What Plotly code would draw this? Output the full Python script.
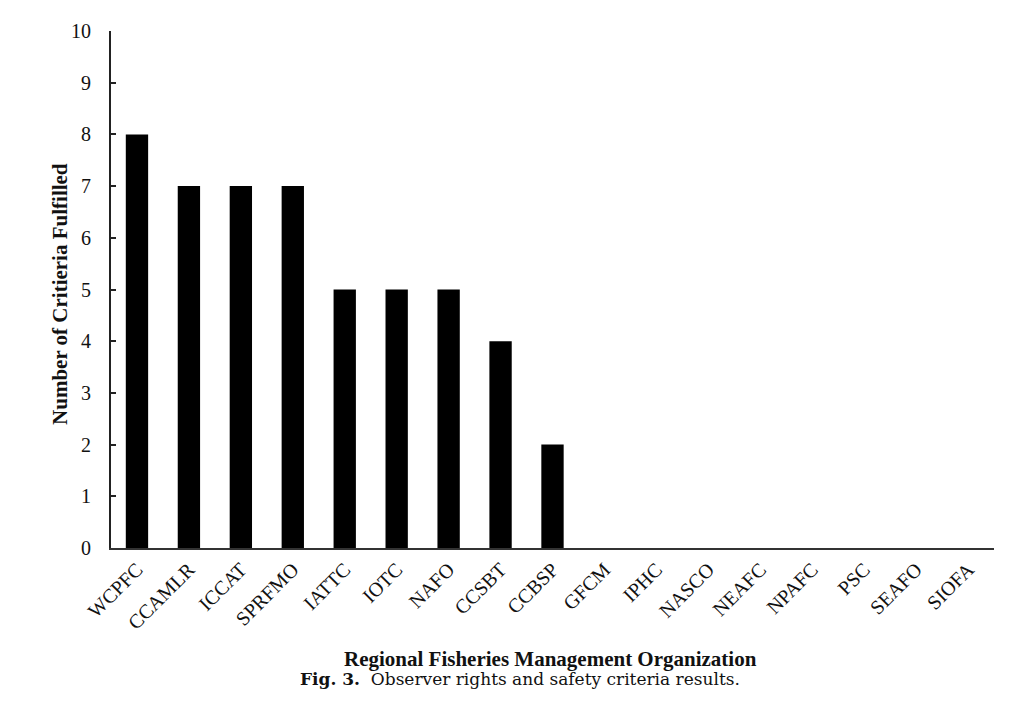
import plotly.graph_objects as go

categories = ["WCPFC", "CCAMLR", "ICCAT", "SPRFMO", "IATTC", "IOTC", "NAFO", "CCSBT",
              "CCBSP", "GFCM", "IPHC", "NASCO", "NEAFC", "NPAFC", "PSC", "SEAFO", "SIOFA"]
values = [8, 7, 7, 7, 5, 5, 5, 4, 2, 0, 0, 0, 0, 0, 0, 0, 0]
y_ticks = list(range(0, 11))

serif = "Liberation Serif, Times New Roman, serif"

fig = go.Figure(go.Bar(
    x=categories, y=values,
    marker=dict(color="black", line=dict(width=0)),
))

# page body adds ~8px offset; margins compensate
fig.update_layout(
    width=1024, height=726,
    margin=dict(l=103, r=38, t=21, b=186),
    paper_bgcolor="white", plot_bgcolor="white",
    bargap=0.57,
    showlegend=False,
    font=dict(family=serif, color="#111", size=20),
    xaxis=dict(
        range=[-0.5, len(categories) - 0.5],
        showline=True, linecolor="#333", linewidth=2,
        ticks="", tickangle=-45,
        tickfont=dict(family=serif, size=20, color="#111"),
        showgrid=False, zeroline=False,
    ),
    yaxis=dict(
        range=[0, 10], tickvals=y_ticks,
        showline=True, linecolor="#222", linewidth=2,
        ticks="inside", ticklen=5, tickwidth=2, tickcolor="#222",
        ticklabelstandoff=14,
        tickfont=dict(family=serif, size=20, color="#111"),
        showgrid=False, zeroline=False,
    ),
    annotations=[
        dict(text="<b>Number of Critieria Fulfilled</b>", xref="paper", yref="paper",
             x=-0.058, y=0.491, xanchor="center", yanchor="middle", textangle=-90,
             showarrow=False, font=dict(family=serif, size=21, color="#111")),
        dict(text="<b>Regional Fisheries Management Organization</b>", xref="paper", yref="paper",
             x=0.498, y=-0.215, xanchor="center", yanchor="middle",
             showarrow=False, font=dict(family=serif, size=21, color="#111")),
        dict(text="<b>Fig. 3.</b>\u00a0\u00a0Observer rights and safety criteria results.",
             xref="paper", yref="paper",
             x=0.463, y=-0.254, xanchor="center", yanchor="middle",
             showarrow=False, font=dict(family="DejaVu Serif, serif", size=17, color="#111")),
    ],
)

fig.write_html("out.html")
